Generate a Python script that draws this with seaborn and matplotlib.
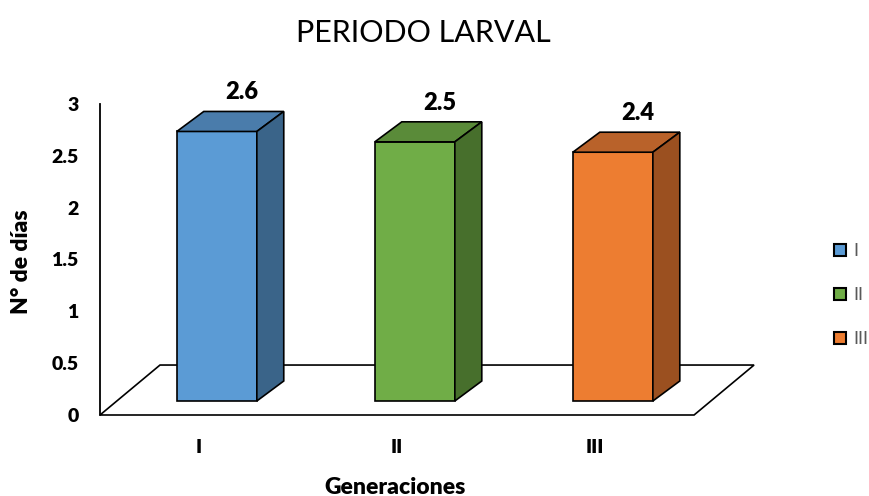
import matplotlib
matplotlib.use("Agg")
import matplotlib.pyplot as plt
import seaborn as sns
import pandas as pd
from matplotlib.patches import Polygon, Rectangle

# Data
generaciones = ["I", "II", "III"]
dias = [2.6, 2.5, 2.4]

# Face colours for each generation (front, top, side)
colores_frente = ["#5B9BD5", "#70AD47", "#ED7D31"]
colores_techo = ["#4A7CAB", "#5A8B39", "#B9622A"]
colores_lado = ["#3A6489", "#476F2C", "#9B5020"]

sns.set_theme(style="white")
plt.rcParams["font.family"] = ["Lato", "DejaVu Sans"]
plt.rcParams["text.color"] = "black"
plt.rcParams["xtick.color"] = "black"
plt.rcParams["ytick.color"] = "black"

W, H = 870, 496
fig = plt.figure(figsize=(W / 100, H / 100), dpi=100)
ax = fig.add_axes([100 / W, 1 - 415 / H, 660 / W, 311 / H])

df = pd.DataFrame({"Generaciones": generaciones, "dias": dias})
sns.barplot(data=df, x="Generaciones", y="dias", hue="Generaciones",
            palette=colores_frente, width=0.404, edgecolor="black",
            linewidth=1.2, legend=False, ax=ax, zorder=3, saturation=1)

ax.set_xlim(-0.5, 2.833)
ax.set_ylim(0, 3)

# Pseudo-3D geometry in data units
floor_dx, floor_dy = 0.303, 0.482      # depth of the floor plane
shift_dx, shift_dy = 0.09, 0.135       # bars sit inside the floor
depth_dx, depth_dy = 0.136, 0.193      # bar thickness

# Floor
floor = Polygon([(-0.5, 0), (2.5, 0), (2.5 + floor_dx, floor_dy),
                 (-0.5 + floor_dx, floor_dy)], closed=True,
                facecolor="white", edgecolor="black", linewidth=1.2,
                zorder=1, clip_on=False)
ax.add_patch(floor)

bars = [p for p in ax.patches if isinstance(p, Rectangle)]
for i, p in enumerate(bars):
    p.set_x(p.get_x() + shift_dx)
    p.set_y(p.get_y() + shift_dy)
    p.set_clip_on(False)
    x0 = p.get_x()
    x1 = x0 + p.get_width()
    y0 = p.get_y()
    y1 = y0 + p.get_height()
    top = Polygon([(x0, y1), (x1, y1), (x1 + depth_dx, y1 + depth_dy),
                   (x0 + depth_dx, y1 + depth_dy)], closed=True,
                  facecolor=colores_techo[i], edgecolor="black",
                  linewidth=1.2, zorder=3, clip_on=False)
    side = Polygon([(x1, y0), (x1 + depth_dx, y0 + depth_dy),
                    (x1 + depth_dx, y1 + depth_dy), (x1, y1)], closed=True,
                   facecolor=colores_lado[i], edgecolor="black",
                   linewidth=1.2, zorder=3, clip_on=False)
    ax.add_patch(top)
    ax.add_patch(side)
    ax.annotate(f"{dias[i]}", xy=((x0 + x1) / 2 + depth_dx, y1 + depth_dy),
                xytext=(-2, 19), textcoords="offset pixels",
                ha="center", va="center", fontsize=17, fontweight="heavy",
                color="black", annotation_clip=False)

# Axes styling
for s in ["top", "right", "bottom"]:
    ax.spines[s].set_visible(False)
ax.spines["left"].set_color("black")
ax.spines["left"].set_linewidth(1.3)
ax.set_yticks([0, 0.5, 1, 1.5, 2, 2.5, 3])
ax.set_yticklabels(["0", "0.5", "1", "1.5", "2", "2.5", "3"])
ax.tick_params(axis="y", which="major", direction="out", length=4.5,
               width=1.2, color="black", pad=11, labelsize=14,
               labelcolor="black")
for t in ax.get_yticklabels():
    t.set_fontweight("heavy")
ax.set_xticks([0, 1, 2])
ax.set_xticklabels(generaciones)
ax.tick_params(axis="x", length=0, pad=17, labelsize=14, labelcolor="black")
for t in ax.get_xticklabels():
    t.set_fontweight("heavy")

ax.set_xlabel("")
ax.set_ylabel("")
fig.text(395 / W, 1 - 487 / H, "Generaciones", ha="center", va="center",
         fontsize=16.5, fontweight="heavy")
fig.text(22 / W, 1 - 262 / H, "N° de días", ha="center", va="center",
         rotation=90, fontsize=16.5, fontweight="heavy")
fig.text(423 / W, 1 - 33 / H, "PERIODO LARVAL", ha="center", va="center",
         fontsize=22)

# Legend
handles = [Rectangle((0, 0), 1, 1, facecolor=c, edgecolor="black",
                     linewidth=1.5) for c in colores_frente]
leg = fig.legend(handles, generaciones, loc="center left",
                 bbox_to_anchor=(834 / W, 1 - 295 / H), frameon=False,
                 fontsize=13, handlelength=0.65, handleheight=0.65,
                 handletextpad=0.4, labelspacing=1.55, borderpad=0,
                 borderaxespad=0)
for t in leg.get_texts():
    t.set_color("#595959")

fig.savefig("out.png", dpi=100)
